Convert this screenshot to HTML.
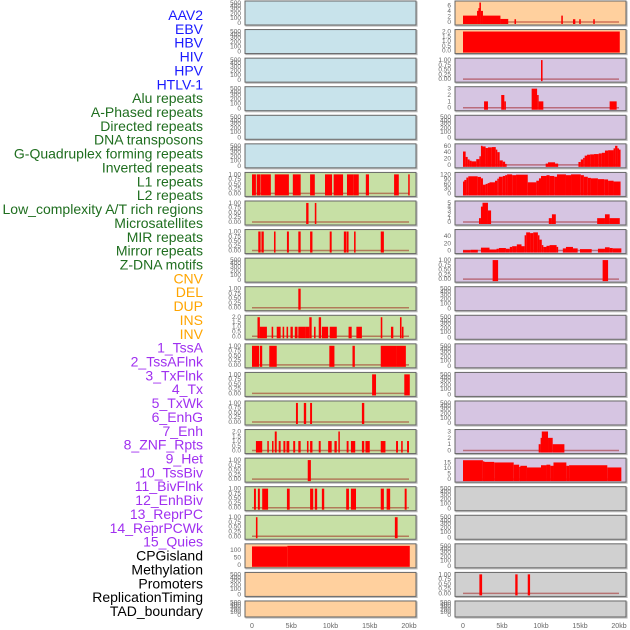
<!DOCTYPE html>
<html><head><meta charset="utf-8"><style>
html,body{margin:0;padding:0;background:#fff;}
svg{display:block;font-family:"Liberation Sans",sans-serif;}
</style></head><body>
<svg id="chart" width="630" height="630" viewBox="0 0 630 630"></svg>
<script>
// ---- labels ----
const trackLabels = ["AAV2","EBV","HBV","HIV","HPV","HTLV-1","Alu repeats","A-Phased repeats","Directed repeats","DNA transposons","G-Quadruplex forming repeats","Inverted repeats","L1 repeats","L2 repeats","Low_complexity A/T rich regions","Microsatellites","MIR repeats","Mirror repeats","Z-DNA motifs","CNV","DEL","DUP","INS","INV","1_TssA","2_TssAFlnk","3_TxFlnk","4_Tx","5_TxWk","6_EnhG","7_Enh","8_ZNF_Rpts","9_Het","10_TssBiv","11_BivFlnk","12_EnhBiv","13_ReprPC","14_ReprPCWk","15_Quies","CPGisland","Methylation","Promoters","ReplicationTiming","TAD_boundary"];
const labelColors = ["#1a1aff","#1f6e1f","#ffa500","#a030f0","#000"];
const labelGroupSizes = [6,13,5,15,5];
const xTickLabels = ["0","5kb","10kb","15kb","20kb"];
const xTickValues = [0,5,10,15,20];

// ---- left column data: [startKb, endKb, value] ----
const L6 = [[0,0.5,1],[0.6,1.1,1],[1.15,2.4,1],[2.9,4.7,1],[5.2,6.2,1],[7.4,8.0,1],[9.3,10.2,1],[10.4,11.6,1],[12.1,12.9,1],[12.9,13.6,1],[14.5,14.9,1],[18.1,18.7,1],[19.9,20.0,1]];
const L7 = [[6.9,7.2,1],[8.0,8.2,1]];
const L8 = [[0.8,1.1,1],[1.2,1.5,1],[2.8,3.0,1],[4.45,4.7,1],[5.9,6.2,1],[7.4,7.7,1],[9.9,10.15,1],[11.7,12.0,1],[12.05,12.3,1],[13.0,13.2,1],[16.4,16.8,1]];
const L10 = [[5.9,6.2,1]];
const L11 = [[0.7,1.0,2],[1.0,1.9,1],[2.5,2.7,1],[3.15,3.65,1],[3.9,4.1,1],[4.4,4.6,1],[4.9,5.2,1],[5.45,5.8,1],[5.9,6.8,1],[6.8,7.3,1],[7.3,7.6,2],[7.9,8.1,1],[8.5,8.8,2],[8.9,9.7,1],[9.9,10.8,1],[12.3,12.7,1],[13.3,14.0,1],[16.4,16.6,2],[17.7,18.0,1],[18.85,19.05,2],[19.1,19.3,1]];
const L12 = [[0,0.9,1],[1.0,1.3,1],[2.2,3.15,1],[9.85,10.5,1],[12.8,13.1,1],[16.4,18.4,1],[18.4,19.6,1]];
const L13 = [[15.3,15.8,1],[19.4,20.1,1]];
const L14 = [[5.6,5.85,1],[6.6,6.9,1],[7.4,7.65,1],[14.0,14.3,1]];
const L15 = [[0.5,1.3,1],[1.95,2.1,1],[2.55,2.7,1],[2.9,3.15,2],[3.4,3.65,1],[4.0,4.25,1],[4.4,4.75,1],[5.25,5.5,1],[5.9,6.2,1],[7.0,7.2,1],[7.4,7.7,1],[8.5,8.75,1],[9.7,10.15,1],[10.5,10.8,1],[11.0,11.1,2],[12.06,12.3,1],[12.6,13.15,1],[14.0,14.3,1],[14.45,15.0,1],[16.4,17.0,1],[18.35,18.6,1],[19.0,19.2,1],[19.75,20.0,1]];
const L16 = [[7.1,7.5,1]];
const L17 = [[0.25,0.5,1],[0.75,1.0,1],[1.3,2.05,1],[4.45,4.8,1],[7.4,7.8,1],[8.0,8.3,1],[8.9,9.2,1],[12.0,12.35,1],[12.6,13.25,1],[16.4,16.8,1],[17.15,17.6,1],[19.45,19.7,1]];
const L18 = [[0.5,0.7,1],[18.2,18.55,1]];
const L19 = [[0,4.5,126],[4.5,20.1,130]];

// ---- right column data ----
const R0 = [[0,1.8,2.3],[1.8,1.97,4],[1.97,2.1,5],[2.1,2.3,7],[2.3,2.56,4],[2.56,4.8,2.3],[4.8,5.8,1.1],[6.6,6.8,1],[12.6,12.8,2.3],[14.1,14.4,1],[14.9,15.1,1],[16.7,16.8,1]];
const R1 = [[0,20.1,2]];
const R2 = [[10.0,10.2,1]];
const R3 = [[2.7,3.2,1],[4.9,5.3,2],[5.3,5.5,1],[8.8,9.5,3],[9.5,9.7,2],[9.7,10.3,1],[18.8,19.7,1]];
const R5 = [[0,0.34,42],[0.34,0.6,25],[0.6,0.85,17],[0.85,1.1,13],[1.1,1.7,11],[1.7,2.1,18],[2.1,2.3,27],[2.3,2.5,60],[2.5,2.9,58],[2.9,3.2,53],[3.2,3.7,55],[3.7,4.2,56],[4.2,4.4,48],[4.4,4.7,40],[4.7,5.1,14],[5.1,5.4,10],[5.4,5.5,3],[10.6,10.9,4],[10.9,11.8,8],[11.8,12.2,4],[14.8,15.1,9],[15.1,15.4,17],[15.4,15.6,22],[15.6,15.9,29],[15.9,16.3,32],[16.3,16.8,33],[16.8,17.4,34],[17.4,17.8,36],[17.8,18.2,38],[18.2,18.6,45],[18.6,19.3,46],[19.3,19.5,52],[19.5,19.8,60],[19.8,20.0,52],[20.0,20.2,48]];
const R6 = [[0,0.17,75],[0.17,0.43,85],[0.43,0.68,100],[0.68,1.88,108],[1.88,2.3,104],[2.3,2.56,95],[2.56,2.9,55],[2.9,3.16,60],[3.16,3.4,65],[3.4,4.1,70],[4.1,4.4,80],[4.4,4.6,93],[4.6,5.1,105],[5.1,5.4,110],[5.4,5.65,115],[5.65,6.3,120],[6.3,6.8,115],[6.8,8.3,118],[8.3,9.4,70],[9.4,9.74,80],[9.74,10.0,95],[10.0,10.7,110],[10.7,11.1,115],[11.1,11.7,110],[11.7,12.05,105],[12.05,13.2,120],[13.2,13.85,115],[13.85,15.1,120],[15.1,15.5,115],[15.5,16.0,105],[16.0,16.4,98],[16.4,17.3,95],[17.3,18.1,90],[18.1,18.6,88],[18.6,19.3,80],[19.3,20.2,75]];
const R7 = [[2.05,2.3,1],[2.3,2.5,4],[2.5,3.2,5],[3.2,3.6,3],[11.0,11.4,1],[11.4,11.9,2],[17.2,18.2,1],[18.2,18.8,2],[18.8,20.1,1]];
const R8 = [[0,1.0,1],[1.0,1.9,2],[2.3,3.4,8],[3.4,4.3,3],[4.3,4.6,5],[4.6,5.5,7],[5.5,6.0,5],[6.0,6.3,10],[6.3,6.9,12],[6.9,7.5,17],[7.5,7.9,12],[7.9,8.1,42],[8.1,8.6,50],[8.6,9.0,48],[9.0,9.6,50],[9.6,9.8,42],[9.8,10.1,30],[10.1,10.3,15],[10.3,10.7,10],[10.7,11.1,13],[11.1,12.0,15],[12.0,12.2,10],[12.8,13.2,6],[13.2,14.1,10],[14.1,14.7,6],[15.0,16.5,4],[17.3,18.2,5],[18.2,18.8,9],[18.8,19.2,7],[19.2,20.3,6]];
const R9 = [[3.8,4.5,1],[17.9,18.6,1]];
const R15 = [[9.7,9.95,1],[9.95,10.1,2],[10.1,10.9,3],[10.9,11.5,2],[11.5,13.0,1]];
const R16 = [[0,2.55,17],[2.55,2.7,16],[2.7,4.0,15.5],[4.0,6.5,15],[6.5,7.2,13],[7.2,7.35,11],[7.35,8.2,12],[8.2,10.0,10.5],[10.0,10.7,12.5],[10.7,11.2,13],[11.2,11.6,12],[11.6,13.25,15],[13.25,13.6,12],[13.6,18.5,12.5],[18.5,20.3,10.5]];
const R20 = [[2.1,2.45,1],[6.7,7.0,1],[8.3,8.6,1]];

const BLUE="#c8e3eb", GREEN="#c7e0a5", ORANGE="#ffd09e", PURPLE="#d6c5e2", GRAY="#d0d0d0";
const T500=["0","100","200","300","400","500"];
const T1=["0.00","0.25","0.50","0.75","1.00"];
const T2=["0.0","0.5","1.0","1.5","2.0"];
const leftRows = [
 [BLUE,null,T500,null],[BLUE,null,T500,null],[BLUE,null,T500,null],[BLUE,null,T500,null],[BLUE,null,T500,null],[BLUE,null,T500,null],
 [GREEN,1.05,T1,L6],[GREEN,1.05,T1,L7],[GREEN,1.05,T1,L8],[GREEN,null,T500,null],[GREEN,1.05,T1,L10],[GREEN,2.1,T2,L11],
 [GREEN,1.05,T1,L12],[GREEN,1.05,T1,L13],[GREEN,1.05,T1,L14],[GREEN,2.1,T2,L15],[GREEN,1.05,T1,L16],[GREEN,1.05,T1,L17],[GREEN,1.05,T1,L18],
 [ORANGE,137,["0","50","100"],L19],[ORANGE,null,T500,null],[ORANGE,null,T500,null]
];
const rightRows = [
 [ORANGE,7.2,["0","2","4","6"],R0],[ORANGE,2.1,T2,R1],[PURPLE,1.05,T1,R2],[PURPLE,3.15,["0","1","2","3"],R3],
 [PURPLE,null,T500,null],[PURPLE,63,["0","20","40","60"],R5],[PURPLE,126,["0","30","60","90","120"],R6],[PURPLE,5.2,["0","1","2","3","4","5"],R7],
 [PURPLE,55,["0","20","40"],R8],[PURPLE,1.05,T1,R9],[PURPLE,null,T500,null],[PURPLE,null,T500,null],[PURPLE,null,T500,null],
 [PURPLE,null,T500,null],[PURPLE,null,T500,null],[PURPLE,3.15,["0","1","2","3"],R15],[PURPLE,18,["0","5","10","15"],R16],
 [GRAY,null,T500,null],[GRAY,null,T500,null],[GRAY,null,T500,null],[GRAY,1.05,T1,R20],[GRAY,null,T500,null]
];

const NS="http://www.w3.org/2000/svg";
const svg=document.getElementById('chart');
function mk(tag,attrs,parent){const e=document.createElementNS(NS,tag);for(const k in attrs)e.setAttribute(k,attrs[k]);(parent||svg).appendChild(e);return e;}

let li=0;
labelGroupSizes.forEach((n,g)=>{for(let j=0;j<n;j++){
  const t=mk('text',{x:203,y:15+li*13.86+5,'text-anchor':'end','font-size':'14',fill:labelColors[g]});
  t.textContent=trackLabels[li];
  
  
  li++;}});

const PITCH=28.57;
function drawColumn(rows,x0,x1,dx0,dx1,colName){
  const xs=kb=>dx0+(dx1-dx0)*kb/20;
  rows.forEach((r,i)=>{
    const top=i*PITCH+1, h=(i===21)?16:24;
    const g=mk('g',{});
    
    
    mk('rect',{x:x0+1,y:top+1,width:x1-x0,height:h,fill:'none',stroke:'#bbb','stroke-width':1.2},g);
    mk('rect',{x:x0,y:top,width:x1-x0,height:h,fill:r[0],stroke:'#666','stroke-width':1},g);
    const zeroY=top+h-3, topY=top+1;
    const ticks=r[2];
    if(r[1]===null){
      const offs=[h-2,h*0.7,h*0.52,h*0.34,h*0.21,h*0.08];
      ticks.forEach((tk,k)=>{const t=mk('text',{x:x0-4,y:top+offs[k]+2,'text-anchor':'end','font-size':'6.5',fill:'#666'},g);t.textContent=tk;});
    } else {
      const ys=v=>zeroY-(zeroY-topY)*v/r[1];
      ticks.forEach(tk=>{const t=mk('text',{x:x0-4,y:ys(parseFloat(tk))+2,'text-anchor':'end','font-size':'6.5',fill:'#666'},g);t.textContent=tk;});
      if(r[3]!==R1 && r[3]!==L19) mk('line',{x1:xs(0),x2:xs(20),y1:zeroY,y2:zeroY,stroke:'rgba(150,0,0,0.45)','stroke-width':1.5},g);
      r[3].forEach(d=>{
        const b=mk('rect',{x:xs(d[0]),y:ys(d[2]),width:Math.max(1.5,xs(d[1])-xs(d[0])),height:zeroY+2-ys(d[2]),fill:'#ff0000'},g);
        
        
      });
    }
  });
  xTickValues.forEach((v,k)=>{const t=mk('text',{x:xs(v),y:628,'text-anchor':'middle','font-size':'7',fill:'#666'});
    t.textContent=xTickLabels[k];
    
    });
}
drawColumn(leftRows,245,416,252,409,'left');
drawColumn(rightRows,455,626,463,619,'right');
</script>
</body></html>
